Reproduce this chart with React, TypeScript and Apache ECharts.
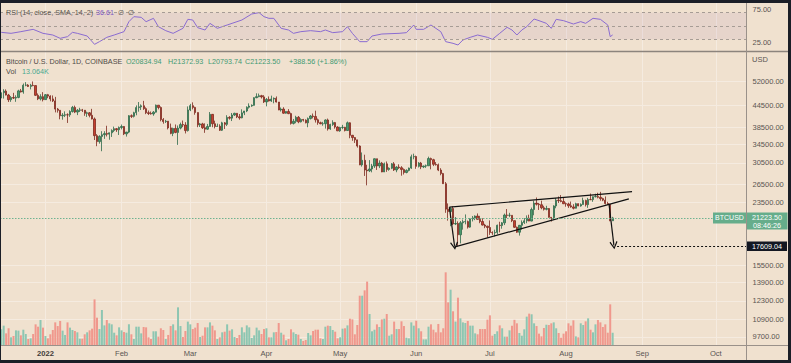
import React, { useEffect, useRef } from 'react';
import * as echarts from 'echarts';

// ---------- data (daily, first candle 2021-12-14, last 2022-08-20) ----------
const firstDay = '2021-12-14';

const opens = [
  46700, 48380, 48880, 47640, 46200, 46850, 46700, 46900, 48960, 48620, 50820, 50850, 50410, 50780, 50700, 47550, 46460, 47130,
  46220, 47740, 47300, 46440, 45830, 43430, 43080, 41560, 41730, 41840, 41830, 42740, 43920, 42590, 43100, 43200, 43100, 42230, 42380, 41680, 40700, 36470, 35070, 36280, 36690, 36960, 36830, 37160, 37720, 38170, 37920,
  38480, 38730, 36900, 37330, 41570, 41400, 42410, 43870, 44070, 44400, 43560, 42400, 42200, 42070, 42560, 44560, 43890, 40540, 40010, 40120, 38380, 37010, 38250, 37250, 38330, 39220, 39120, 37700,
  43190, 44420, 43910, 42450, 39150, 39400, 38420, 38060, 38740, 41960, 39440, 38730, 38810, 37790, 39670, 39280, 41120, 40920, 41770, 42240, 41270, 41000, 42370, 42890, 43960, 44320, 44520, 46820, 47130, 47440, 47060,
  45530, 46290, 45810, 46400, 46620, 45500, 43170, 43440, 42280, 42760, 42160, 39530, 40080, 41150, 39940, 40550, 40390, 39680, 40800, 41500, 41370, 40480, 39710, 39450, 39450, 40430, 38110, 39240, 39740, 38600,
  37640, 38470, 38530, 37720, 39690, 36550, 36010, 35470, 34060, 30090, 31010, 29090, 28940, 29290, 29860, 31330, 29880, 30440, 28720, 30300, 29200, 29430, 30290, 29100, 29650, 29530, 29200, 28620, 29020, 29460, 31730,
  31790, 29800, 30450, 29700, 29860, 29910, 31370, 31130, 30200, 30110, 29080, 28420, 26580, 22490, 22130, 22580, 20400, 20460, 19000, 20560, 20710, 20720, 19980, 21100, 21230, 21490, 21030, 20730, 20250, 20100,
  19930, 19290, 19240, 19300, 20230, 20190, 20550, 21630, 21590, 21590, 20850, 19960, 19320, 20220, 20590, 20830, 21190, 20790, 22430, 23400, 23230, 23150, 22690, 22460, 22580, 21310, 21250, 22960, 23850, 23780, 23650,
  23300, 23270, 22990, 22820, 22620, 23310, 22960, 23180, 23810, 23160, 23950, 23940, 24400, 24440, 24310, 24100, 23860, 23340, 23200, 20834.94,
];

const highs = [
  48700, 49500, 49440, 47990, 47330, 48330, 47550, 49330, 49580, 51380, 51860, 51180, 51260, 52090, 50710, 48140, 47900, 48560,
  47950, 47990, 47560, 47510, 47070, 43750, 43140, 42300, 42790, 42250, 43100, 44350, 44440, 43450, 43800, 43480, 43180, 42700, 42580, 43500, 41100, 36840, 36570, 37550, 37550, 38920, 37230, 38020, 38700, 38360, 38740,
  39240, 38850, 37380, 41750, 41940, 42670, 44500, 45500, 44800, 45850, 43940, 43020, 42750, 42880, 44750, 44580, 44200, 40950, 40450, 40150, 39480, 38430, 39250, 38980, 39730, 40280, 39850, 44200,
  44950, 45400, 44100, 42500, 39650, 39680, 39550, 39390, 42600, 42050, 40250, 39480, 39300, 39950, 39890, 41720, 41470, 42330, 42400, 42300, 42050, 43360, 42900, 44220, 45100, 44800, 46950, 48180, 48100, 47700, 47600,
  46700, 47200, 47450, 46880, 47200, 45500, 43900, 43970, 42800, 43430, 42420, 40700, 41560, 41500, 40870, 40720, 40600, 41100, 41750, 42180, 42980, 40800, 39990, 39940, 40600, 40800, 39450, 40350, 39910, 38800,
  38670, 39150, 38630, 40020, 39840, 36650, 36130, 35500, 34230, 32650, 32170, 30100, 31050, 30300, 31400, 31330, 31000, 30680, 30550, 30770, 29600, 30450, 30650, 29830, 30200, 29840, 29380, 29220, 29560, 32190, 32390,
  31980, 30650, 30680, 29950, 30160, 31760, 31560, 31320, 30650, 30360, 29440, 28550, 26880, 23350, 22750, 22950, 21350, 20750, 20800, 21000, 21720, 20860, 21200, 21500, 21580, 21860, 21520, 21180, 20420, 20170,
  20880, 19430, 19650, 20310, 20700, 20650, 21840, 22500, 21950, 21600, 20870, 20050, 20250, 20880, 21200, 21580, 21680, 22720, 23780, 24280, 23430, 23770, 22990, 22990, 22650, 21340, 23070, 24200, 24440, 24670, 24190,
  23500, 23470, 23640, 23230, 23460, 23350, 23360, 24250, 23930, 24220, 24920, 24450, 24890, 25050, 25200, 24240, 24450, 23600, 23200, 21372.93,
];

const lows = [
  46300, 46550, 47520, 45500, 45550, 46410, 45560, 46640, 48450, 48050, 50470, 50220, 49440, 50480, 47330, 46080, 45980, 45680,
  46220, 46650, 45700, 45510, 42500, 42430, 40610, 40500, 41220, 39650, 41260, 42450, 42300, 41750, 42600, 42600, 41550, 41250, 41140, 40580, 35440, 34020, 34600, 32920, 35700, 36270, 35500, 36160, 37330, 37380, 36630,
  38000, 36610, 36250, 37070, 40960, 41100, 41700, 42700, 43180, 43200, 42010, 41770, 41880, 41570, 42450, 43350, 40080, 39450, 39640, 38000, 36810, 36350, 37050, 34320, 38010, 38560, 37000, 37460,
  42850, 43350, 41850, 38550, 38600, 38100, 37150, 37890, 38650, 38550, 38250, 38670, 37600, 37600, 38110, 38850, 40530, 40150, 41520, 40930, 40500, 40880, 41750, 42580, 43580, 44080, 44430, 46650, 46950, 46560, 45200,
  44220, 45650, 45530, 45120, 45360, 43130, 42740, 42110, 42130, 42000, 39220, 39250, 39580, 39580, 39770, 40020, 39550, 38540, 40570, 40850, 39750, 39170, 39310, 38930, 38200, 37700, 37880, 38880, 38190, 37580,
  37400, 38050, 37500, 37670, 35850, 35260, 34760, 33710, 30040, 29750, 27980, 26300, 28700, 28650, 29490, 29100, 29460, 28680, 28700, 28740, 28950, 29260, 28900, 28670, 29300, 28020, 28240, 28460, 28830, 29300, 31220,
  29320, 29580, 29260, 29460, 29500, 29890, 29220, 29850, 29950, 28880, 28100, 26560, 21950, 20850, 20100, 20250, 20250, 17609.04, 17950, 19650, 20350, 19790, 19890, 20740, 20920, 20970, 20500, 20190, 19840, 18630,
  18980, 18980, 18790, 19050, 19300, 19770, 20250, 21200, 21330, 20650, 19880, 19240, 18900, 19650, 20400, 20500, 20770, 20760, 21600, 23030, 22370, 22470, 22280, 22310, 21270, 20720, 21050, 22620, 23420, 23520, 23250,
  22850, 22670, 22700, 22450, 22590, 22930, 22850, 23160, 22880, 22680, 23860, 23600, 24290, 24140, 23770, 23700, 23200, 23110, 20780, 20793.74,
];

const closes = [
  48380, 48880, 47640, 46200, 46850, 46700, 46900, 48960, 48620, 50820, 50850, 50410, 50780, 50700, 47550, 46460, 47130, 46220,
  47740, 47300, 46440, 45830, 43430, 43080, 41560, 41730, 41840, 41830, 42740, 43920, 42590, 43100, 43200, 43100, 42230, 42380, 41680, 40700, 36470, 35070, 36280, 36690, 36960, 36830, 37160, 37720, 38170, 37920, 38480,
  38730, 36900, 37330, 41570, 41400, 42410, 43870, 44070, 44400, 43560, 42400, 42200, 42070, 42560, 44560, 43890, 40540, 40010, 40120, 38380, 37010, 38250, 37250, 38330, 39220, 39120, 37700, 43190,
  44420, 43910, 42450, 39150, 39400, 38420, 38060, 38740, 41960, 39440, 38730, 38810, 37790, 39670, 39280, 41120, 40920, 41770, 42240, 41270, 41000, 42370, 42890, 43960, 44320, 44520, 46820, 47130, 47440, 47060, 45530,
  46290, 45810, 46400, 46620, 45500, 43170, 43440, 42280, 42760, 42160, 39530, 40080, 41150, 39940, 40550, 40390, 39680, 40800, 41500, 41370, 40480, 39710, 39450, 39450, 40430, 38110, 39240, 39740, 38600, 37640,
  38470, 38530, 37720, 39690, 36550, 36010, 35470, 34060, 30090, 31010, 29090, 28940, 29290, 29860, 31330, 29880, 30440, 28720, 30300, 29200, 29430, 30290, 29100, 29650, 29530, 29200, 28620, 29020, 29460, 31730, 31790,
  29800, 30450, 29700, 29860, 29910, 31370, 31130, 30200, 30110, 29080, 28420, 26580, 22490, 22130, 22580, 20400, 20460, 19000, 20560, 20710, 20720, 19980, 21100, 21230, 21490, 21030, 20730, 20250, 20100, 19930,
  19290, 19240, 19300, 20230, 20190, 20550, 21630, 21590, 21590, 20850, 19960, 19320, 20220, 20590, 20830, 21190, 20790, 22430, 23400, 23230, 23150, 22690, 22460, 22580, 21310, 21250, 22960, 23850, 23780, 23650, 23300,
  23270, 22990, 22820, 22620, 23310, 22960, 23180, 23810, 23160, 23950, 23940, 24400, 24440, 24310, 24100, 23860, 23340, 23200, 20834.94, 21223.5,
];

// volume in thousands of BTC
const volumesK = [
  16.7, 20.6, 12.4, 17.8, 8.2, 9.6, 15.6, 15.3, 10.3, 16.3,
  11.7, 6.4, 7.1, 11.7, 22.0, 19.5, 26.6, 18.5, 9.6, 7.1,
  11.4, 16.0, 24.1, 20.2, 25.6, 15.3, 10.7, 24.1, 18.5, 16.0,
  14.9, 13.5, 6.7, 6.7, 11.4, 13.5, 15.6, 17.4, 48.6, 29.1,
  17.0, 37.3, 20.9, 26.6, 23.1, 22.0, 13.1, 10.3, 18.8, 15.6,
  13.8, 13.1, 22.0, 11.4, 6.4, 19.5, 19.5, 12.4, 19.2, 18.8,
  8.2, 6.4, 14.6, 14.6, 8.9, 17.8, 16.0, 6.4, 10.7, 20.2,
  22.0, 15.6, 40.1, 20.2, 8.5, 14.9, 24.9, 22.0, 17.0, 18.5,
  23.4, 8.5, 9.9, 18.8, 18.8, 24.1, 20.6, 15.6, 6.4, 8.2,
  13.5, 14.2, 22.0, 15.3, 16.7, 8.5, 7.5, 10.7, 18.8, 13.5,
  20.9, 18.8, 7.5, 10.3, 18.5, 15.6, 11.7, 17.0, 17.8, 8.2,
  8.2, 13.5, 13.8, 23.4, 13.1, 11.0, 5.0, 6.4, 16.7, 13.5,
  11.7, 11.0, 6.4, 4.3, 5.3, 12.8, 10.3, 14.9, 16.3, 16.3,
  7.1, 6.4, 19.5, 20.6, 20.2, 16.0, 14.2, 7.1, 8.2, 17.4,
  17.8, 20.9, 28.0, 27.3, 11.4, 21.3, 52.5, 52.5, 58.2, 67.5,
  33.0, 14.6, 16.3, 22.0, 19.2, 27.3, 28.0, 33.0, 9.9, 11.4,
  24.9, 17.0, 17.0, 25.2, 20.2, 7.8, 7.1, 24.1, 20.6, 25.9,
  17.8, 14.6, 6.0, 6.0, 19.5, 22.0, 16.3, 13.5, 22.4, 13.5,
  17.8, 77.4, 45.4, 58.9, 35.9, 24.9, 50.4, 28.4, 24.1, 23.4,
  25.6, 20.6, 20.6, 12.4, 11.4, 17.0, 17.0, 17.0, 27.0, 31.6,
  9.9, 11.7, 14.6, 20.9, 17.8, 8.9, 8.9, 15.6, 20.6, 26.8,
  23.1, 12.8, 9.9, 16.7, 30.2, 33.4, 32.7, 23.1, 20.2, 12.1,
  9.2, 18.1, 21.6, 21.3, 23.1, 24.1, 17.8, 12.8, 7.8, 12.1,
  14.6, 23.1, 20.6, 26.3, 9.2, 8.2, 23.1, 21.3, 25.2, 28.4,
  16.3, 13.5, 22.0, 26.6, 24.1, 19.2, 22.0, 13.1, 43.3, 13.064,
];

// RSI readings: [day index, value]
const rsiPoints: [number, number][] = [
  [0, 40.5], [4, 39], [8, 41.5], [13, 45], [17, 39], [21, 36.5], [24, 31.5], [27, 34], [29, 40.5], [31, 39],
  [35, 35], [38, 22.5], [40, 26.5], [43, 33], [46, 36.5], [50, 41.5], [52, 56.5], [54, 64], [57, 63], [59, 56.5],
  [62, 61.5], [64, 49], [67, 43], [70, 39], [74, 46.5], [76, 60], [78, 59], [80, 47.5], [83, 44], [85, 54],
  [88, 46.5], [92, 51.5], [94, 54], [98, 59], [102, 68], [105, 70], [107, 64], [109, 61.5], [111, 61.5], [114, 46.5],
  [117, 44], [119, 39], [122, 41.5], [126, 43], [130, 41.5], [132, 44], [135, 40], [139, 41.5], [141, 49], [143, 39],
  [146, 26.5], [149, 26.5], [151, 35], [155, 38], [162, 39], [165, 40], [168, 51.5], [169, 45], [172, 45], [175, 51.5],
  [179, 41.5], [181, 26.5], [184, 24], [186, 21.5], [188, 29], [191, 33], [194, 36.5], [198, 33], [200, 30], [203, 39],
  [206, 48], [208, 44], [210, 36.5], [212, 44], [214, 49], [217, 60.5], [219, 58], [222, 54], [224, 46.5], [226, 60],
  [229, 58], [233, 53], [236, 56.5], [238, 54], [241, 61.5], [244, 60], [247, 51.5], [248, 34], [249, 36.61],
];

const monthTickIdx = [18, 49, 77, 108, 138, 169, 199, 230, 261, 291];
const monthTickLabels = ['2022', 'Feb', 'Mar', 'Apr', 'May', 'Jun', 'Jul', 'Aug', 'Sep', 'Oct'];
const priceTicks = [52000, 44500, 38500, 34500, 30500, 26500, 23500, 15500, 13900, 12300, 10900, 9700];
const rsiTicks = [25, 75];
const rsiLevels = [70, 50, 30];

// drawn annotations: [dayIndex, price]
const wedgeLines: [number, number][][] = [
  [[182.5, 22781], [256.9, 25245]],
  [[184.4, 17512], [255.6, 24060]],
];
const arrowLines: [number, number][][] = [
  [[182.5, 22781], [184.6, 17660]],
  [[247.5, 23280], [249.5, 17720]],
];
const targetPrice = 17609.04;
const targetFromIdx = 250.8;
const rsiLast = '36.61';
const volLast = '13.064K';
const countdown = '08:46:26';

// ---------- styling ----------
const FONT = '"Liberation Sans", Arial, sans-serif';
const BG = '#f0e1cf';
const GRID = '#f5ebe0';
const AXIS_TXT = '#5a5552';
const FRAME = '#1b1e27';
const AXLINE = '#9a918a';
const X_MIN = -0.5;
const X_MAX = 303.5;
const PRICE_MIN = 9200;
const PRICE_MAX = 63230;

export default function App() {
  const ref = useRef<HTMLDivElement>(null);

  useEffect(() => {
    document.body.style.margin = '0';
    const chart = echarts.init(ref.current!, null, { renderer: 'svg' });
    const ln = Math.log;
    const last = closes.length - 1;

    const candleData = closes.map((c, i) => [i, ln(opens[i]), ln(c), ln(lows[i]), ln(highs[i])]);
    const volData = volumesK.map((v, i) => ({
      value: [i, v],
      itemStyle: { color: closes[i] >= opens[i] ? '#8dc6b2' : '#f0988d' },
    }));

    const arrowSym = 'path://M5,0 L10,9 L8.8,10 L5,3 L1.2,10 L0,9 Z';
    const lineMarks: any[] = [];
    wedgeLines.forEach((l) => {
      lineMarks.push([
        { coord: [l[0][0], ln(l[0][1])], symbol: 'none', lineStyle: { color: '#111', width: 1.2, type: 'solid' } },
        { coord: [l[1][0], ln(l[1][1])], symbol: 'none' },
      ]);
    });
    arrowLines.forEach((l) => {
      lineMarks.push([
        { coord: [l[0][0], ln(l[0][1])], symbol: 'none', lineStyle: { color: '#111', width: 1.2, type: 'solid' } },
        { coord: [l[1][0], ln(l[1][1])], symbol: arrowSym, symbolSize: [8, 8] },
      ]);
    });
    lineMarks.push([
      { coord: [targetFromIdx, ln(targetPrice)], symbol: 'none', lineStyle: { color: '#111', width: 1, type: [2, 2] } },
      { coord: [X_MAX, ln(targetPrice)], symbol: 'none' },
    ]);
    lineMarks.push({
      yAxis: ln(closes[last]),
      symbol: 'none',
      lineStyle: { color: '#6fb391', width: 1, type: [1.5, 1.5] },
    });

    const monthLabel = (v: number) => {
      const k = monthTickIdx.indexOf(Math.round(v));
      if (k < 0) return '';
      return k === 0 ? '{b|' + monthTickLabels[k] + '}' : monthTickLabels[k];
    };

    const xCommon = (gridIndex: number, labels: boolean) => ({
      type: 'value',
      gridIndex,
      min: X_MIN,
      max: X_MAX,
      axisLine: { show: false },
      axisTick: { show: false, customValues: monthTickIdx },
      axisLabel: labels
        ? {
            show: true,
            customValues: monthTickIdx,
            formatter: monthLabel,
            margin: 4,
            fontSize: 7.6,
            color: AXIS_TXT,
            fontFamily: FONT,
            rich: { b: { fontWeight: 'bold', fontSize: 7.6, color: '#3f3b39', fontFamily: FONT } },
          }
        : { show: false },
      splitLine: { show: gridIndex !== 2, lineStyle: { color: GRID, width: 1 } },
    });

    const option: any = {
      animation: false,
      backgroundColor: BG,
      textStyle: { fontFamily: FONT },
      grid: [
        { left: 0, top: 3, width: 746.5, height: 48, outerBoundsMode: 'none', containLabel: false },
        { left: 0, top: 52, width: 746.5, height: 293, outerBoundsMode: 'none', containLabel: false },
        { left: 0, top: 52, width: 746.5, height: 293, outerBoundsMode: 'none', containLabel: false },
      ],
      xAxis: [xCommon(0, false), xCommon(1, true), xCommon(2, false)],
      yAxis: [
        {
          type: 'value',
          gridIndex: 0,
          position: 'right',
          min: 12.5,
          max: 84.5,
          axisLine: { show: false },
          axisTick: { show: false, customValues: rsiTicks },
          axisLabel: {
            customValues: rsiTicks,
            formatter: (v: number) => v.toFixed(2),
            margin: 6,
            fontSize: 7.5,
            color: AXIS_TXT,
            fontFamily: FONT,
          },
          splitLine: { show: false },
        },
        {
          type: 'value',
          gridIndex: 1,
          position: 'right',
          min: ln(PRICE_MIN),
          max: ln(PRICE_MAX),
          axisLine: { show: false },
          axisTick: { show: false, customValues: priceTicks.map((p) => ln(p)) },
          axisLabel: {
            customValues: priceTicks.map((p) => ln(p)),
            formatter: (v: number) => Math.exp(v).toFixed(2),
            margin: 6,
            fontSize: 7.5,
            color: AXIS_TXT,
            fontFamily: FONT,
          },
          splitLine: { show: true, lineStyle: { color: GRID, width: 1 } },
        },
        { type: 'value', gridIndex: 2, min: 0, max: 312, show: false, splitLine: { show: false } },
      ],
      series: [
        {
          type: 'line',
          name: 'RSI',
          xAxisIndex: 0,
          yAxisIndex: 0,
          data: rsiPoints,
          symbol: 'none',
          lineStyle: { color: '#8a6bd1', width: 1 },
          z: 3,
          markArea: {
            silent: true,
            itemStyle: { color: 'rgba(150,95,175,0.10)' },
            data: [[{ yAxis: 30 }, { yAxis: 70 }]],
          },
          markLine: {
            silent: true,
            symbol: 'none',
            label: { show: false },
            lineStyle: { color: '#a69c95', width: 1, type: [3, 3] },
            data: rsiLevels.map((v) => ({ yAxis: v })),
          },
        },
        {
          type: 'bar',
          name: 'Vol',
          xAxisIndex: 2,
          yAxisIndex: 2,
          barWidth: 2,
          data: volData,
          z: 1,
        },
        {
          type: 'candlestick',
          name: 'BTCUSD',
          xAxisIndex: 1,
          yAxisIndex: 1,
          barWidth: 1.8,
          encode: { x: 0, y: [1, 2, 3, 4] },
          data: candleData,
          z: 3,
          itemStyle: {
            color: '#4c9a6d',
            color0: '#c4402f',
            borderColor: '#2f6a4a',
            borderColor0: '#7c2a1f',
            borderWidth: 0.8,
          },
          markLine: {
            silent: true,
            symbol: 'none',
            label: { show: false },
            data: lineMarks,
          },
        },
      ],
    };

    chart.setOption(option);

    const yCur = chart.convertToPixel({ yAxisIndex: 1 } as any, ln(closes[last])) as unknown as number;
    const yTgt = chart.convertToPixel({ yAxisIndex: 1 } as any, ln(targetPrice)) as unknown as number;

    const f = (s: number) => `${s}px ${FONT}`;
    const txt = (x: number, y: number, text: string, fill: string, size = 7.2, extra: any = {}) => ({
      type: 'text',
      x,
      y,
      z: 100,
      silent: true,
      style: { text, fill, font: f(size), verticalAlign: 'middle', align: 'left', ...extra },
    });
    const green = '#3f9a73';
    const chg = closes[last] - opens[last];
    const pct = (chg / opens[last]) * 100;

    const elements: any[] = [
      // pane borders / axis lines
      { type: 'line', z: 90, silent: true, shape: { x1: 0, y1: 51.5, x2: 788, y2: 51.5 }, style: { stroke: '#8c847d', lineWidth: 1.5 } },
      { type: 'line', z: 90, silent: true, shape: { x1: 0, y1: 345.5, x2: 788, y2: 345.5 }, style: { stroke: AXLINE, lineWidth: 1 } },
      { type: 'line', z: 90, silent: true, shape: { x1: 746.5, y1: 3, x2: 746.5, y2: 360 }, style: { stroke: AXLINE, lineWidth: 1 } },
      // headers
      txt(6, 12.8, 'RSI (14, close, SMA, 14, 2)', '#5d5753'),
      txt(96, 12.8, rsiLast, '#7e57c2'),
      txt(118, 12.8, '\u2205  \u2205', '#5d5753'),
      txt(6, 61.5, 'Bitcoin / U.S. Dollar, 1D, COINBASE', '#4e4946'),
      txt(126, 61.5, 'O' + opens[last].toFixed(2), green),
      txt(168, 61.5, 'H' + highs[last].toFixed(2), green),
      txt(208, 61.5, 'L' + lows[last].toFixed(2), green),
      txt(245, 61.5, 'C' + closes[last].toFixed(2), green),
      txt(289, 61.5, `+${chg.toFixed(2)} (+${pct.toFixed(2)}%)`, green),
      txt(6, 71, 'Vol', '#4e4946'),
      txt(22, 71, volLast, '#4aa88f'),
      txt(752, 59, 'USD', AXIS_TXT, 7.5),
      // current price labels
      { type: 'rect', z: 95, silent: true, shape: { x: 713, y: yCur - 5.5, width: 33, height: 11 }, style: { fill: '#66ad8b' } },
      txt(729.5, yCur, 'BTCUSD', '#ffffff', 7, { align: 'center' }),
      { type: 'rect', z: 95, silent: true, shape: { x: 747, y: yCur - 5.5, width: 40.5, height: 17 }, style: { fill: '#66ad8b' } },
      txt(767, yCur, closes[last].toFixed(2), '#ffffff', 7.2, { align: 'center' }),
      txt(767, yCur + 7.5, countdown, '#ffffff', 7.2, { align: 'center' }),
      // target label
      { type: 'rect', z: 95, silent: true, shape: { x: 747, y: yTgt - 4.8, width: 40, height: 9.6 }, style: { fill: '#131722' } },
      txt(767, yTgt, targetPrice.toFixed(2), '#ffffff', 7.2, { align: 'center' }),
      // frame
      { type: 'rect', z: 120, silent: true, shape: { x: 0, y: 0, width: 791, height: 3 }, style: { fill: FRAME } },
      { type: 'rect', z: 120, silent: true, shape: { x: 0, y: 360, width: 791, height: 3 }, style: { fill: FRAME } },
      { type: 'rect', z: 120, silent: true, shape: { x: 0, y: 0, width: 1, height: 363 }, style: { fill: FRAME } },
      { type: 'rect', z: 120, silent: true, shape: { x: 788, y: 0, width: 3, height: 363 }, style: { fill: FRAME } },
    ];

    chart.setOption({ graphic: { elements } });

    return () => chart.dispose();
  }, []);

  return <div ref={ref} style={{ position: 'absolute', left: 0, top: 0, width: 791, height: 363 }} />;
}
